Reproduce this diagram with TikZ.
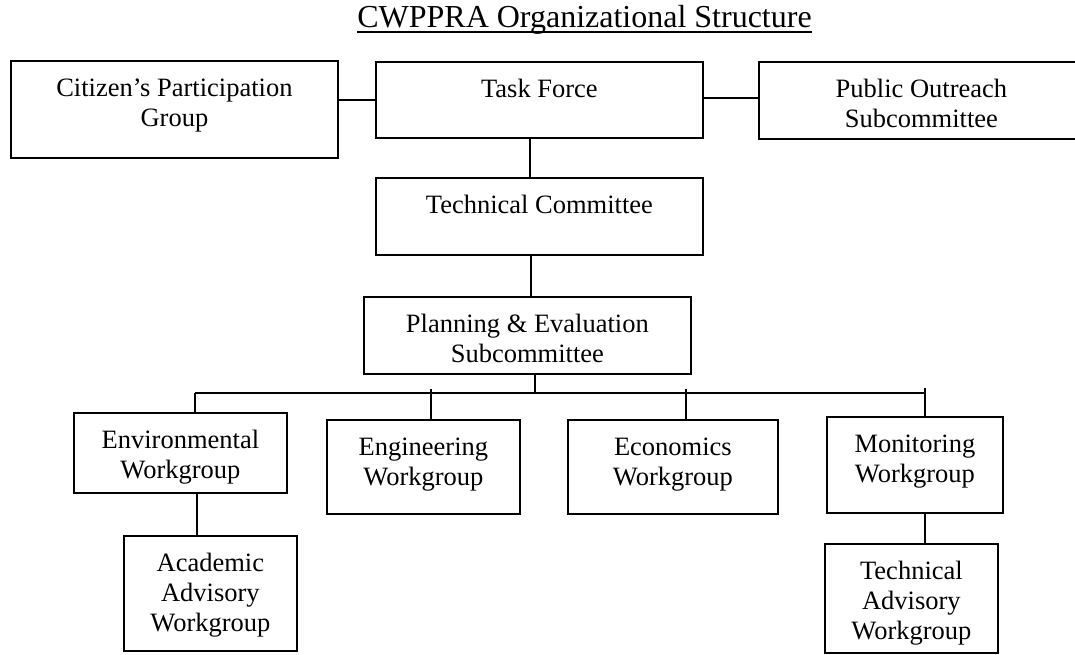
\documentclass[tikz,border=0pt]{standalone}
\usepackage{fontspec}
\setmainfont{Liberation Serif}
\newcommand\bx[3]{\parbox[c][#2][t]{#1}{\centering\rule{0pt}{36pt}#3}}
\begin{document}
\begin{tikzpicture}[x=1pt,y=-1pt,
  box/.style={draw, line width=1.8pt, inner sep=0pt, anchor=north west, font=\fontsize{26.5}{30}\selectfont},
  link/.style={line width=1.8pt}]
\useasboundingbox (0,0) rectangle (1075,654);
\clip (0,0) rectangle (1075,654);
% title
\node[anchor=base, inner sep=0pt, font=\fontsize{32}{36}\selectfont] (title) at (584.5,27) {CWPPRA Organizational Structure};
\draw[line width=1.6pt] ([yshift=-5pt]title.base west) -- ([yshift=-5pt]title.base east);
% boxes
\node[box] (cpg) at (10,60)  {\bx{327pt}{97pt}{Citizen’s Participation\\Group}};
\node[box] (tf)  at (375,61) {\bx{327pt}{76pt}{Task Force}};
\node[box] (po)  at (758,61) {\bx{325pt}{77pt}{Public Outreach\\Subcommittee}};
\node[box] (tc)  at (375,177) {\bx{327pt}{77pt}{Technical Committee}};
\node[box] (pe)  at (363,296) {\bx{327pt}{77pt}{Planning \& Evaluation\\Subcommittee}};
\node[box] (env) at (73,412)  {\bx{213pt}{80pt}{Environmental\\Workgroup}};
\node[box] (eng) at (326,419) {\bx{193pt}{94pt}{Engineering\\Workgroup}};
\node[box] (eco) at (567,419) {\bx{210pt}{94pt}{Economics\\Workgroup}};
\node[box] (mon) at (826,416) {\bx{176pt}{96pt}{Monitoring\\Workgroup}};
\node[box] (aca) at (123,535) {\bx{173pt}{115pt}{Academic\\Advisory\\Workgroup}};
\node[box] (ta)  at (824,543) {\bx{173pt}{109pt}{Technical\\Advisory\\Workgroup}};
% connectors
\draw[link] (tf.west) -- (tf.west -| cpg.east);
\draw[link] ([yshift=2pt]tf.east) -- ([yshift=2pt]tf.east -| po.west);
\draw[link] ([xshift=-9.5pt]tf.south) -- ([xshift=-9.5pt]tf.south |- tc.north);
\draw[link] ([xshift=-8.5pt]tc.south) -- ([xshift=-8.5pt]tc.south |- pe.north);
\coordinate (busL) at (195,393);
\coordinate (busR) at (925,393);
\draw[link] (busL) -- (busR);
\draw[link] ([xshift=7.5pt]pe.south) -- ([xshift=7.5pt]pe.south |- busL);
\draw[link] (busL) -- (busL |- env.north);
\coordinate (tEng) at (431,389);
\coordinate (tEco) at (686,389);
\coordinate (tMon) at (925,388);
\draw[link] (tEng) -- (tEng |- eng.north);
\draw[link] (tEco) -- (tEco |- eco.north);
\draw[link] (tMon) -- (tMon |- mon.north);
\draw[link] ([xshift=16.5pt]env.south) -- ([xshift=16.5pt]env.south |- aca.north);
\draw[link] ([xshift=10pt]mon.south) -- ([xshift=10pt]mon.south |- ta.north);
\end{tikzpicture}
\end{document}
